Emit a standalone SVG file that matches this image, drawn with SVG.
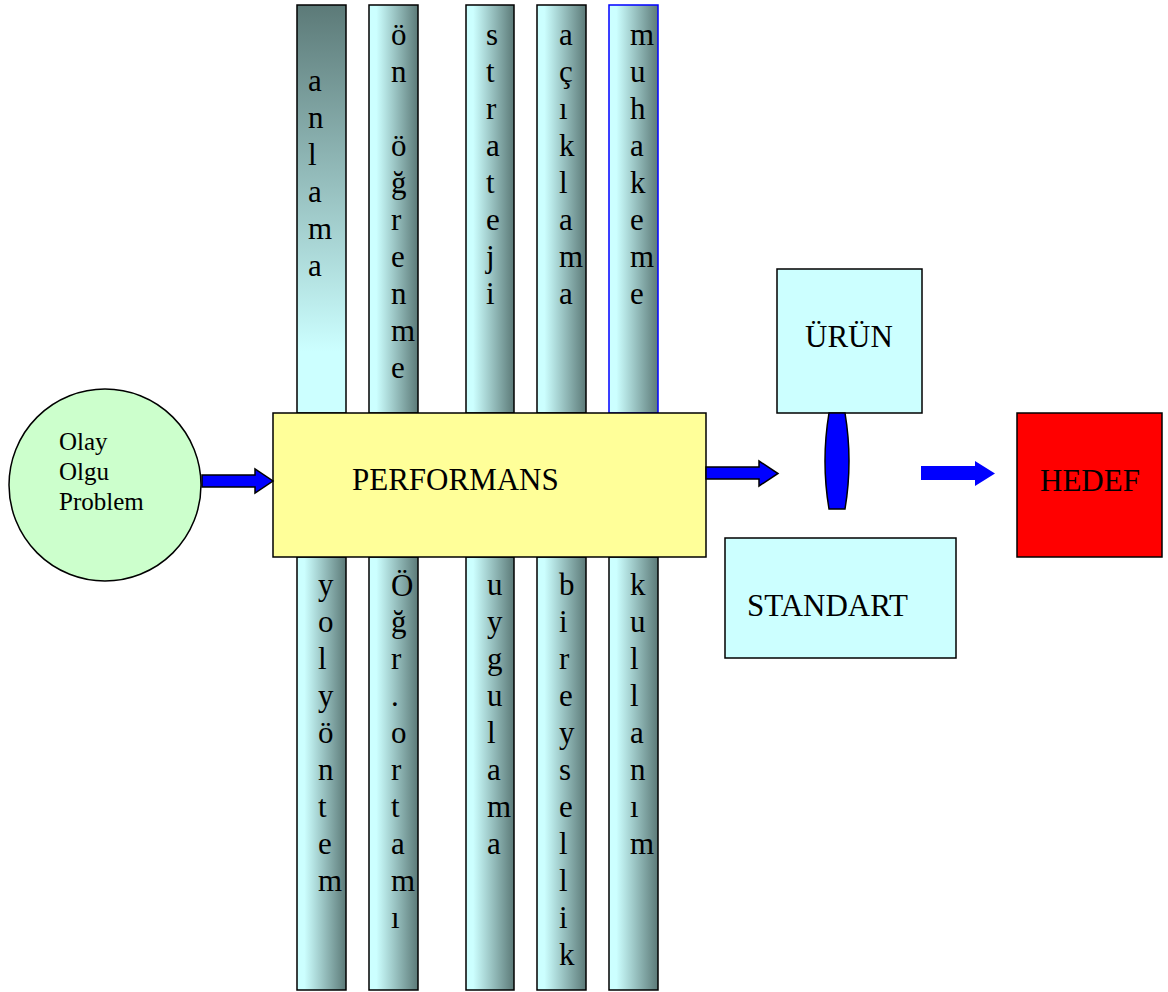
<svg xmlns="http://www.w3.org/2000/svg" width="1168" height="992" viewBox="0 0 1168 992">
<defs>
<linearGradient id="gh" x1="0" y1="0" x2="1" y2="0">
<stop offset="0" stop-color="#ccffff"/>
<stop offset="0.15" stop-color="#ccffff"/>
<stop offset="1" stop-color="#5c7a78"/>
</linearGradient>
<linearGradient id="gv" x1="0" y1="0" x2="0" y2="1">
<stop offset="0" stop-color="#5c7a78"/>
<stop offset="0.85" stop-color="#ccffff"/>
<stop offset="1" stop-color="#ccffff"/>
</linearGradient>
</defs>
<style>
.col{stroke:#000;stroke-width:1.5}
.t{font-family:"Liberation Serif","Times New Roman",serif;font-size:31px;fill:#000}
.s{font-family:"Liberation Serif","Times New Roman",serif;font-size:25px;fill:#000}
.box{stroke:#000;stroke-width:1.5}
.arr{fill:#0000ff;stroke:#000;stroke-width:1.5}
</style>
<rect width="1168" height="992" fill="#fff"/>

<g id="col-anlama">
<rect class="col" x="297" y="5" width="49" height="408" fill="url(#gv)"/>
<text class="t" x="308" y="91">a</text><text class="t" x="308" y="128">n</text><text class="t" x="308" y="165">l</text><text class="t" x="308" y="202">a</text><text class="t" x="308" y="239">m</text><text class="t" x="308" y="276">a</text>
</g>
<g id="col-onogrenme">
<rect class="col" x="369" y="5" width="49" height="408" fill="url(#gh)"/>
<text class="t" x="391" y="45">ö</text><text class="t" x="391" y="82">n</text><text class="t" x="391" y="156">ö</text><text class="t" x="391" y="193">ğ</text><text class="t" x="391" y="230">r</text><text class="t" x="391" y="267">e</text><text class="t" x="391" y="304">n</text><text class="t" x="391" y="341">m</text><text class="t" x="391" y="378">e</text>
</g>
<g id="col-strateji">
<rect class="col" x="466" y="5" width="48" height="408" fill="url(#gh)"/>
<text class="t" x="486" y="45">s</text><text class="t" x="486" y="82">t</text><text class="t" x="486" y="119">r</text><text class="t" x="486" y="156">a</text><text class="t" x="486" y="193">t</text><text class="t" x="486" y="230">e</text><text class="t" x="486" y="267">j</text><text class="t" x="486" y="304">i</text>
</g>
<g id="col-aciklama">
<rect class="col" x="537" y="5" width="49" height="408" fill="url(#gh)"/>
<text class="t" x="559" y="45">a</text><text class="t" x="559" y="82">ç</text><text class="t" x="559" y="119">ı</text><text class="t" x="559" y="156">k</text><text class="t" x="559" y="193">l</text><text class="t" x="559" y="230">a</text><text class="t" x="559" y="267">m</text><text class="t" x="559" y="304">a</text>
</g>
<g id="col-muhakeme">
<rect x="609" y="5" width="49" height="408" fill="url(#gh)" stroke="#0000ff" stroke-width="1.5"/>
<text class="t" x="630" y="45">m</text><text class="t" x="630" y="82">u</text><text class="t" x="630" y="119">h</text><text class="t" x="630" y="156">a</text><text class="t" x="630" y="193">k</text><text class="t" x="630" y="230">e</text><text class="t" x="630" y="267">m</text><text class="t" x="630" y="304">e</text>
</g>

<g id="col-yolyontem">
<rect class="col" x="297" y="557" width="49" height="433" fill="url(#gh)"/>
<text class="t" x="318" y="595">y</text><text class="t" x="318" y="632">o</text><text class="t" x="318" y="669">l</text><text class="t" x="318" y="706">y</text><text class="t" x="318" y="743">ö</text><text class="t" x="318" y="780">n</text><text class="t" x="318" y="817">t</text><text class="t" x="318" y="854">e</text><text class="t" x="318" y="891">m</text>
</g>
<g id="col-ogrortami">
<rect class="col" x="369" y="557" width="49" height="433" fill="url(#gh)"/>
<text class="t" x="391" y="596">Ö</text><text class="t" x="391" y="632">ğ</text><text class="t" x="391" y="669">r</text><text class="t" x="391" y="706">.</text><text class="t" x="391" y="743">o</text><text class="t" x="391" y="780">r</text><text class="t" x="391" y="817">t</text><text class="t" x="391" y="854">a</text><text class="t" x="391" y="891">m</text><text class="t" x="391" y="928">ı</text>
</g>
<g id="col-uygulama">
<rect class="col" x="466" y="557" width="48" height="433" fill="url(#gh)"/>
<text class="t" x="487" y="595">u</text><text class="t" x="487" y="632">y</text><text class="t" x="487" y="669">g</text><text class="t" x="487" y="706">u</text><text class="t" x="487" y="743">l</text><text class="t" x="487" y="780">a</text><text class="t" x="487" y="817">m</text><text class="t" x="487" y="854">a</text>
</g>
<g id="col-bireysellik">
<rect class="col" x="537" y="557" width="49" height="433" fill="url(#gh)"/>
<text class="t" x="559" y="595">b</text><text class="t" x="559" y="632">i</text><text class="t" x="559" y="669">r</text><text class="t" x="559" y="706">e</text><text class="t" x="559" y="743">y</text><text class="t" x="559" y="780">s</text><text class="t" x="559" y="817">e</text><text class="t" x="559" y="854">l</text><text class="t" x="559" y="891">l</text><text class="t" x="559" y="928">i</text><text class="t" x="559" y="965">k</text>
</g>
<g id="col-kullanim">
<rect class="col" x="609" y="557" width="49" height="433" fill="url(#gh)"/>
<text class="t" x="630" y="595">k</text><text class="t" x="630" y="632">u</text><text class="t" x="630" y="669">l</text><text class="t" x="630" y="706">l</text><text class="t" x="630" y="743">a</text><text class="t" x="630" y="780">n</text><text class="t" x="630" y="817">ı</text><text class="t" x="630" y="854">m</text>
</g>

<g id="olay">
<circle cx="105" cy="485" r="96" fill="#ccffcc" stroke="#000" stroke-width="1.5"/>
<text class="s" x="59" y="450">Olay</text>
<text class="s" x="59" y="480">Olgu</text>
<text class="s" x="59" y="510">Problem</text>
</g>

<g id="performans">
<rect class="box" x="273" y="413" width="433" height="144" fill="#ffff99"/>
<text class="t" x="352" y="490">PERFORMANS</text>
</g>

<g id="urun">
<rect class="box" x="777" y="269" width="145" height="144" fill="#ccffff"/>
<text class="t" x="805" y="347">ÜRÜN</text>
</g>

<g id="standart">
<rect class="box" x="725" y="538" width="231" height="120" fill="#ccffff"/>
<text class="t" x="747" y="616">STANDART</text>
</g>

<g id="hedef">
<rect class="box" x="1017" y="413" width="145" height="144" fill="#ff0000"/>
<text class="t" x="1090" y="491" text-anchor="middle">HEDEF</text>
</g>

<g id="connectors">
<path class="arr" d="M202 475 L255 475 L255 469 L273 481 L255 493 L255 487 L202 487 Z"/>
<path class="arr" d="M706 467 L759 467 L759 461 L778 473.5 L759 486 L759 479 L706 479 Z"/>
<path class="arr" d="M829 413 L845 413 Q853 461 845 509 L829 509 Q821 461 829 413 Z"/>
<path d="M921 466 L975 466 L975 461 L995 473.5 L975 486 L975 480 L921 480 Z" fill="#0000ff"/>
</g>
</svg>
